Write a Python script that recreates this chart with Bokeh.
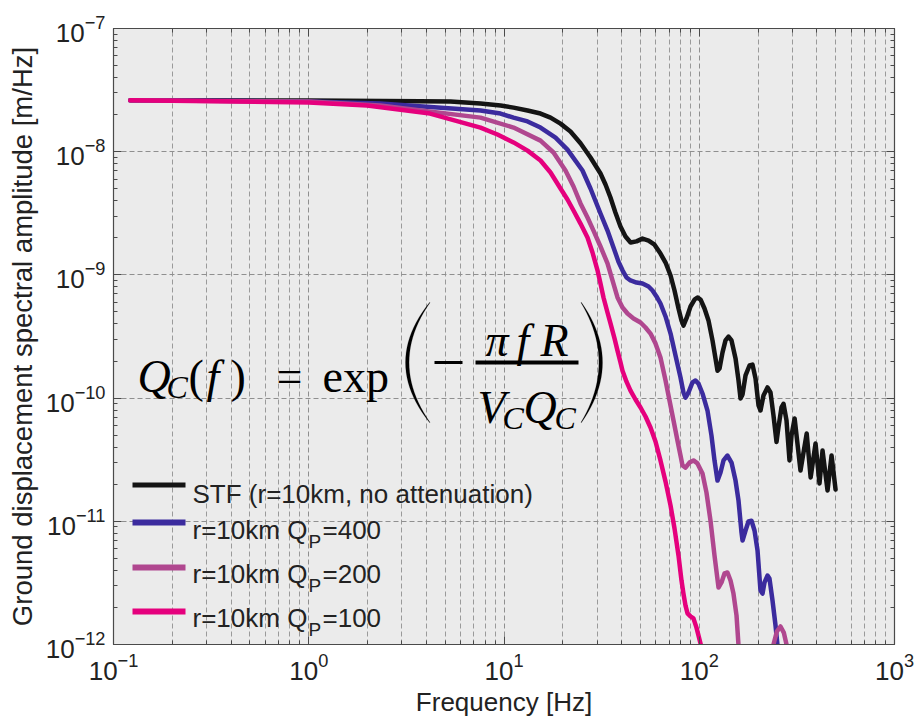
from bokeh.plotting import figure
from bokeh.models import Label, BoxAnnotation, PolyAnnotation, LogAxis, FixedTicker, CustomJSTickFormatter
from bokeh.embed import file_html
from bokeh.resources import INLINE

# ---------------- data ----------------
stf_freq = [0.122, 0.279, 1.0, 3.72, 5.32, 7.58, 9.60, 11.19, 13.20, 15.38, 17.31, 19.47, 21.9, 24.65, 27.73,
            31.2, 33.1, 35.1, 37.2, 39.5, 41.9, 44.5, 47.7, 51.2, 55.0, 59.0, 63.3, 67.2, 71.3, 74.7,
            78.3, 81.1, 83.0, 86.0, 90.2, 94.6, 97.9, 101.5, 106.4, 111.5, 116.9, 121.1, 124.0, 127.0, 131.5,
            136.3, 141.2, 146.3, 153.4, 158.9, 162.7, 166.6, 172.6, 180.9, 187.4, 194.2, 201.2, 205.9, 213.3, 223.6,
            231.7, 240.0, 248.7, 254.5, 263.8, 270.1, 279.8, 289.9, 297, 308, 330, 355, 372, 394, 413,
            428, 454, 476, 499]
stf_amp = [2.61e-8, 2.61e-8, 2.60e-8, 2.57e-8, 2.55e-8, 2.46e-8, 2.37e-8, 2.28e-8, 2.16e-8, 2.04e-8,
           1.89e-8, 1.69e-8, 1.46e-8, 1.17e-8, 8.97e-9, 6.65e-9, 5.42e-9, 4.25e-9, 3.21e-9, 2.47e-9,
           2.05e-9, 1.83e-9, 1.87e-9, 1.97e-9, 1.90e-9, 1.76e-9, 1.49e-9, 1.26e-9, 9.89e-10, 7.47e-10,
           5.34e-10, 4.27e-10, 3.88e-10, 4.43e-10, 5.54e-10, 6.31e-10, 6.56e-10, 6.31e-10, 5.34e-10, 4.27e-10,
           2.94e-10, 2.10e-10, 1.67e-10, 1.74e-10, 2.34e-10, 2.94e-10, 3.16e-10, 2.94e-10, 2.10e-10, 1.39e-10,
           9.93e-11, 1.07e-10, 1.53e-10, 1.84e-10, 1.87e-10, 1.44e-10, 8.71e-11, 7.93e-11, 1.05e-10, 1.22e-10,
           1.11e-10, 7.22e-11, 4.40e-11, 5.80e-11, 8.40e-11, 9.00e-11, 6.60e-11, 3.12e-11, 5.00e-11, 6.83e-11,
           2.58e-11, 5.16e-11, 2.27e-11, 4.28e-11, 2.03e-11, 3.76e-11, 1.78e-11, 3.42e-11, 1.81e-11]

q400_freq = [0.122, 1.0, 2.32, 7.58, 9.60, 11.19, 13.20, 15.38, 18.36, 21.14, 25.23, 27.73, 31.2, 33.89, 36.38,
             38.58, 40.45, 42.41, 44.45, 47.72, 51.21, 54.98, 57.62, 60.39, 63.3, 67.2, 71.3, 75.58, 80.17, 83.0,
             85.04, 88.1, 92.3, 95.7, 99.1, 103.9, 110.2, 115.5, 119.7, 124.0, 128.5, 133.1, 139.5, 146.3, 153.4,
             158.9, 164.6, 166.6, 172.6, 178.7, 185.2, 191.9, 198.8, 205.9, 210.9, 215.9, 223.6, 228.9, 237.2, 245.8,
             251.7, 260.7]
q400_amp = [2.61e-8, 2.56e-8, 2.46e-8, 2.16e-8, 2.04e-8, 1.89e-8, 1.76e-8, 1.57e-8, 1.30e-8, 1.04e-8,
            7.04e-9, 5.03e-9, 3.15e-9, 2.29e-9, 1.67e-9, 1.28e-9, 1.09e-9, 9.53e-10, 9.01e-10, 8.67e-10,
            8.51e-10, 8.05e-10, 7.47e-10, 6.68e-10, 5.86e-10, 4.60e-10, 3.34e-10, 2.22e-10, 1.47e-10, 1.11e-10,
            1.01e-10, 1.11e-10, 1.34e-10, 1.39e-10, 1.31e-10, 1.09e-10, 7.93e-11, 4.97e-11, 3.12e-11, 2.14e-11,
            2.49e-11, 3.12e-11, 3.42e-11, 3.00e-11, 2.14e-11, 1.47e-11, 8.11e-12, 6.98e-12, 8.42e-12, 9.96e-12,
            1.01e-11, 8.42e-12, 5.80e-12, 2.74e-12, 2.59e-12, 3.19e-12, 3.63e-12, 3.43e-12, 2.28e-12, 1.43e-12,
            9.82e-13, 5.10e-13]

q200_freq = [0.122, 1.0, 2.32, 7.58, 11.19, 15.38, 17.93, 20.65, 22.70, 24.65, 26.77, 28.73, 31.2, 33.89, 35.95,
             38.13, 40.45, 42.91, 46.06, 50.03, 53.06, 56.28, 59.69, 63.3, 67.2, 70.42, 73.82, 77.33, 80.17, 82.07,
             85.04, 89.1, 93.4, 97.9, 103.9, 108.9, 114.2, 119.7, 125.5, 130.0, 134.7, 139.5, 144.6, 149.7, 155.2,
             158.9, 166.6, 172.6, 204, 230, 240, 250, 260.7, 271, 282, 295]
q200_amp = [2.61e-8, 2.55e-8, 2.37e-8, 1.89e-8, 1.57e-8, 1.23e-8, 9.85e-9, 7.04e-9, 5.22e-9, 3.80e-9,
            2.92e-9, 2.29e-9, 1.70e-9, 1.24e-9, 9.01e-10, 6.56e-10, 5.44e-10, 4.86e-10, 4.43e-10, 4.11e-10,
            3.74e-10, 3.34e-10, 2.78e-10, 2.14e-10, 1.39e-10, 9.57e-11, 6.58e-11, 4.53e-11, 3.42e-11, 2.84e-11,
            2.73e-11, 3.00e-11, 3.12e-11, 2.95e-11, 2.44e-11, 1.71e-11, 1.01e-11, 5.27e-12, 2.90e-12, 3.19e-12,
            3.77e-12, 3.84e-12, 3.31e-12, 2.59e-12, 1.72e-12, 9.82e-13, 4.23e-13, 2.42e-13, 1.5e-13, 5.5e-13,
            1.0e-12, 1.28e-12, 1.40e-12, 1.25e-12, 9.5e-13, 5.0e-13]

q100_freq = [0.122, 1.0, 1.99, 4.18, 7.58, 9.26, 11.19, 13.20, 15.38, 17.31, 19.47, 21.14, 22.70, 24.65, 26.77,
             28.40, 30.12, 31.2, 32.33, 33.89, 35.11, 36.81, 38.13, 39.5, 40.45, 42.41, 44.45, 47.15, 50.03, 53.06,
             56.28, 59.69, 63.3, 67.2, 71.3, 74.7, 78.3, 81.1, 83.0, 85.04, 87.1, 90.2, 93.4, 96.8, 101.5,
             106.4]
q100_amp = [2.61e-8, 2.51e-8, 2.37e-8, 2.04e-8, 1.57e-8, 1.38e-8, 1.19e-8, 1.02e-8, 8.48e-9, 6.78e-9,
            5.03e-9, 4.09e-9, 3.33e-9, 2.61e-9, 2.01e-9, 1.52e-9, 1.09e-9, 8.51e-10, 6.56e-10, 4.95e-10,
            4.04e-10, 3.05e-10, 2.43e-10, 1.95e-10, 1.67e-10, 1.36e-10, 1.15e-10, 9.74e-11, 8.39e-11, 7.09e-11,
            5.77e-11, 4.44e-11, 3.12e-11, 2.10e-11, 1.34e-11, 8.74e-12, 5.27e-12, 3.31e-12, 2.59e-12, 2.07e-12,
            1.79e-12, 1.69e-12, 1.63e-12, 1.37e-12, 1.02e-12, 6.75e-13]

x_decades = [0.1, 1, 10, 100, 1000]
y_decades = [1e-12, 1e-11, 1e-10, 1e-9, 1e-8, 1e-7]

legend_main = ["STF (r=10km, no attenuation)", "r=10km Q", "r=10km Q", "r=10km Q"]
legend_sub = ["", "P", "P", "P"]
legend_tail = ["", "=400", "=200", "=100"]

# ---------------- styling / layout ----------------
W, H = 914, 719
FL, FR, FT, FB = 113, 20, 28, 75          # frame borders in px
FW, FH = W - FL - FR, H - FT - FB
LX0, LX1, LY0, LY1 = -1, 3, -12, -7

def at(px, py):
    """screen pixel (from top-left of canvas) -> data coords (annotation placement)"""
    fx = LX0 + (px - FL) / FW * (LX1 - LX0)
    fy = LY1 - (py - FT) / FH * (LY1 - LY0)
    return 10 ** fx, 10 ** fy

colors = ["#141414", "#3b2b9e", "#b0478f", "#e5007d"]
series = [(stf_freq, stf_amp), (q400_freq, q400_amp), (q200_freq, q200_amp), (q100_freq, q100_amp)]

p = figure(width=W, height=H, x_axis_type="log", y_axis_type="log",
           x_range=(x_decades[0], x_decades[-1]), y_range=(y_decades[0], y_decades[-1]),
           output_backend="svg", toolbar_location=None,
           min_border_left=FL, min_border_right=FR, min_border_top=FT, min_border_bottom=FB)

p.background_fill_color = "#ebebeb"
p.border_fill_color = "#ffffff"
p.outline_line_color = "#4a4a4a"
p.outline_line_width = 1.2

xa = p.below[0]
ya = p.left[0]

x_minor = [d * k for d in x_decades[:-1] for k in range(2, 10)]
y_minor = [d * k for d in y_decades[:-1] for k in range(2, 10)]
xt = FixedTicker(ticks=x_decades, minor_ticks=x_minor)
yt = FixedTicker(ticks=y_decades, minor_ticks=y_minor)

xa.ticker = xt
ya.ticker = yt
p.xgrid.ticker = xt
p.ygrid.ticker = yt

for g in (p.xgrid, p.ygrid):
    g.grid_line_color = "#8f8f8f"
    g.grid_line_dash = "5 3"
    g.grid_line_width = 1
p.xgrid.minor_grid_line_color = "#9a9a9a"
p.xgrid.minor_grid_line_dash = "5 3"
p.xgrid.minor_grid_line_width = 1

blank = CustomJSTickFormatter(code="return ''")
ax_right = LogAxis(ticker=yt, formatter=blank)
ax_top = LogAxis(ticker=xt, formatter=blank)
p.add_layout(ax_right, "right")
p.add_layout(ax_top, "above")

for ax in (xa, ya, ax_right, ax_top):
    ax.axis_line_color = "#4a4a4a"
    ax.major_tick_line_color = "#4a4a4a"
    ax.minor_tick_line_color = "#4a4a4a"
    ax.major_tick_in = 8
    ax.major_tick_out = 0
    ax.minor_tick_in = 4
    ax.minor_tick_out = 0
    ax.major_label_text_font = "Liberation Sans"
    ax.major_label_text_font_size = "26px"
    ax.major_label_text_color = "#222222"
    ax.axis_label_text_font = "Liberation Sans"
    ax.axis_label_text_font_style = "normal"
    ax.axis_label_text_color = "#222222"

for ax in (ax_right, ax_top):
    ax.major_label_standoff = 0

xa.major_label_standoff = 8
ya.major_label_standoff = 8
xa.axis_label = "Frequency [Hz]"
ya.axis_label = "Ground displacement spectral amplitude [m/Hz]"
xa.axis_label_text_font_size = "26px"
ya.axis_label_text_font_size = "27.5px"
xa.axis_label_standoff = 4
ya.axis_label_standoff = 5

for (fx, fy), c in zip(series, colors):
    p.line(fx, fy, line_color=c, line_width=4.5, line_join="round", line_cap="round")

# ---------------- formula ----------------
def lab(text, px, py, size, font="Liberation Serif", style="normal", color="#000000"):
    x, y = at(px, py)
    p.add_layout(Label(x=x, y=y, text=text, text_font=font, text_font_size=f"{size}px",
                       text_font_style=style, text_color=color,
                       text_align="left", text_baseline="alphabetic"))

def bar(x0, x1, y0, y1, color="#000000"):
    l, b = at(x0, y1)
    r, t = at(x1, y0)
    p.add_layout(BoxAnnotation(left=l, right=r, bottom=b, top=t, fill_color=color,
                               fill_alpha=1, line_color=None, level="overlay"))

def paren(x_end, x_mid, y_top, y_bot, thick, n=24):
    # crescent-shaped big parenthesis (outer and inner curve), in screen pixels
    d = 1 if x_mid < x_end else -1
    ym = (y_top + y_bot) / 2
    half = (y_bot - y_top) / 2
    outer, inner = [], []
    for i in range(n + 1):
        t = -1 + 2 * i / n
        w = 1 - t * t
        y = ym + half * t
        outer.append((x_end + (x_mid - x_end) * w, y))
        inner.append((x_end + d * 0.6 + (x_mid + d * thick - x_end - d * 0.6) * w, y))
    xs, ys = [], []
    for px, py in outer + inner[::-1]:
        a, b = at(px, py)
        xs.append(a)
        ys.append(b)
    p.add_layout(PolyAnnotation(xs=xs, ys=ys, fill_color="#000000", fill_alpha=1,
                                line_color="#000000", line_width=0.6, level="overlay"))

lab("Q", 137, 376, 46, style="italic")
lab("C", 166, 386, 32, style="italic")
lab("(", 188, 376, 46)
lab("f", 206, 376, 46, style="italic")
lab(")", 230, 376, 46)
lab("=", 276, 376, 46)
lab("exp", 322, 376, 46)
paren(429, 405, 302, 422, 3.6)
bar(434, 462, 360.5, 363.5)
lab("\u03c0", 485, 340, 46, style="italic")
lab("f", 516, 340, 46, style="italic")
lab("R", 540, 340, 46, style="italic")
lab("V", 477, 407, 46, style="italic")
lab("C", 502, 417, 32, style="italic")
lab("Q", 523, 407, 46, style="italic")
lab("C", 554, 417, 32, style="italic")
bar(475, 578, 360, 364)
paren(581, 602, 302, 422, 3.6)

# ---------------- legend (manual, for subscripts) ----------------
line_rows = [(482, 487), (519, 525), (564, 570), (608, 614)]
base_rows = [493, 529, 573, 617]
for i, c in enumerate(colors):
    bar(132, 185, line_rows[i][0], line_rows[i][1], c)
    lab(legend_main[i], 192, base_rows[i], 26, font="Liberation Sans", color="#222222")
    if legend_sub[i]:
        lab(legend_sub[i], 308, base_rows[i] + 12, 19, font="Liberation Sans", color="#222222")
        lab(legend_tail[i], 322, base_rows[i], 26, font="Liberation Sans", color="#222222")

open("out.html", "w").write(file_html(p, INLINE))
